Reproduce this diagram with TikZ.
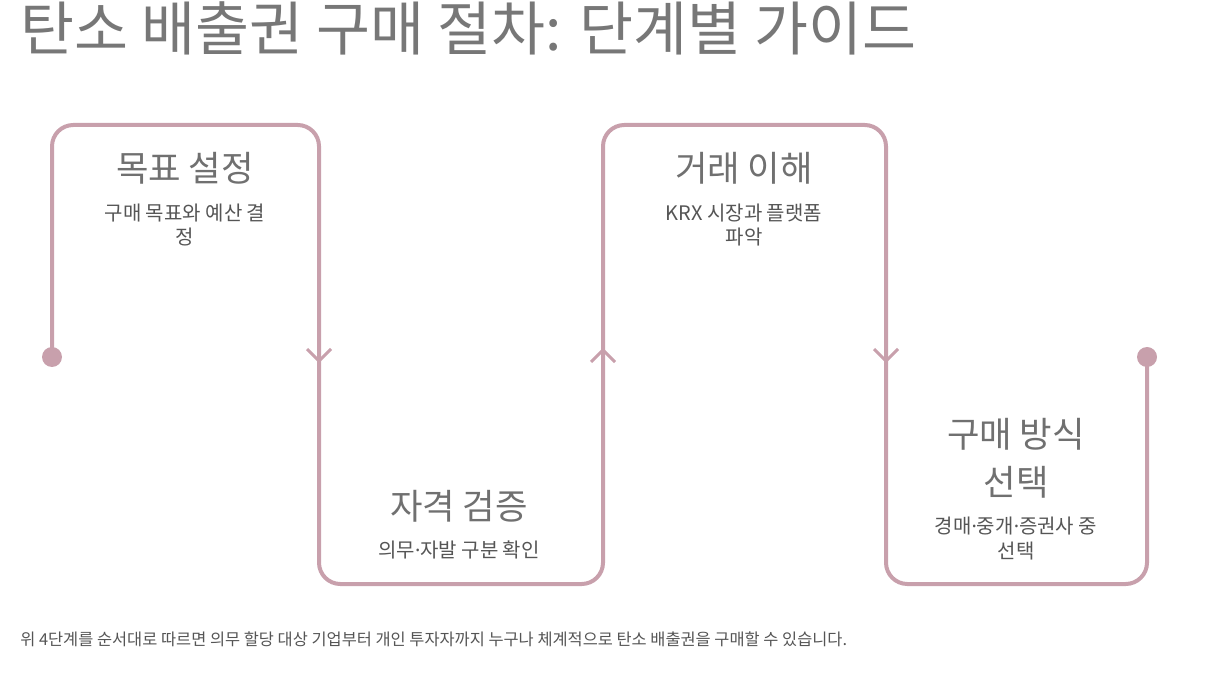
\documentclass[tikz,border=0pt]{standalone}
\usepackage{fontspec}
\setmainfont{Noto Sans CJK KR}
\newfontfamily\dotfont{Noto Sans}
\newcommand{\mdot}{{\dotfont ·}}
\usetikzlibrary{positioning}
\definecolor{Rose}{HTML}{C8A0AC}
\definecolor{TitleGray}{HTML}{777777}
\definecolor{StepGray}{HTML}{707070}
\definecolor{DescGray}{HTML}{555555}

\begin{document}
\begin{tikzpicture}[
      x=0.75pt,y=-0.75pt,
      flow/.style={
        draw=Rose,
        line width=3pt,
        rounded corners=16pt
      },
      chevron/.style={
        draw=Rose,
        line width=2.2pt
      },
      enddot/.style={
        circle,
        fill=Rose,
        minimum size=15pt,
        inner sep=0pt
      },
      steptitle/.style={
        text=StepGray,
        inner sep=0pt,
        align=center,
        font=\fontsize{26.5}{36}\selectfont
      },
      stepdesc/.style={
        text=DescGray,
        inner sep=0pt,
        align=center,
        font=\fontsize{15}{18.5}\selectfont
      }
    ]
      \useasboundingbox (0,0) rectangle (1206,680);

      % heading
      \node[anchor=base west,inner sep=0pt,text=TitleGray,font=\fontsize{44}{50}\selectfont]
        (heading) at (20,51) {탄소 배출권 구매 절차: 단계별 가이드};

      % corners of the wave
      \coordinate (c1) at (52,125);
      \coordinate (c2) at (319,125);
      \coordinate (c3) at (319,584);
      \coordinate (c4) at (603,584);
      \coordinate (c5) at (603,125);
      \coordinate (c6) at (886,125);
      \coordinate (c7) at (886,584);
      \coordinate (c8) at (1147,584);

      \node[enddot] (startdot) at (52,357) {};
      \node[enddot] (stopdot) at (1147,357) {};

      \draw[flow] (startdot.center) -- (c1) -- (c2) -- (c3) -- (c4)
        -- (c5) -- (c6) -- (c7) -- (c8) -- (stopdot.center);

      % direction marks
      \coordinate (m1) at (319,361);
      \coordinate (m2) at (603,350);
      \coordinate (m3) at (886,361);
      \draw[chevron] ([shift={(-12,-12)}]m1) -- (m1) -- ([shift={(12,-12)}]m1);
      \draw[chevron] ([shift={(-12,12)}]m2) -- (m2) -- ([shift={(12,12)}]m2);
      \draw[chevron] ([shift={(-12,-12)}]m3) -- (m3) -- ([shift={(12,-12)}]m3);

      % steps
      \node[steptitle] (goal) at (185,168.5) {목표 설정};
      \node[stepdesc,below=14pt of goal] (goaldesc) {구매 목표와 예산 결\\정};

      \node[steptitle] (check) at (459,506) {자격 검증};
      \node[stepdesc,below=14pt of check] (checkdesc) {의무\mdot 자발 구분 확인};

      \node[steptitle] (market) at (744,168.5) {거래 이해};
      \node[stepdesc,below=14pt of market] (marketdesc) {KRX 시장과 플랫폼\\파악};

      \node[steptitle] (method) at (1016,458) {구매 방식\\선택};
      \node[stepdesc,below=14pt of method] (methoddesc) {경매\mdot 중개\mdot 증권사 중\\선택};

      % footnote
      \node[anchor=base west,inner sep=0pt,text=DescGray,font=\fontsize{12.3}{14}\selectfont]
        (note) at (20,645) {위 4단계를 순서대로 따르면 의무 할당 대상 기업부터 개인 투자자까지 누구나 체계적으로 탄소 배출권을 구매할 수 있습니다.};
    \end{tikzpicture}
\end{document}
